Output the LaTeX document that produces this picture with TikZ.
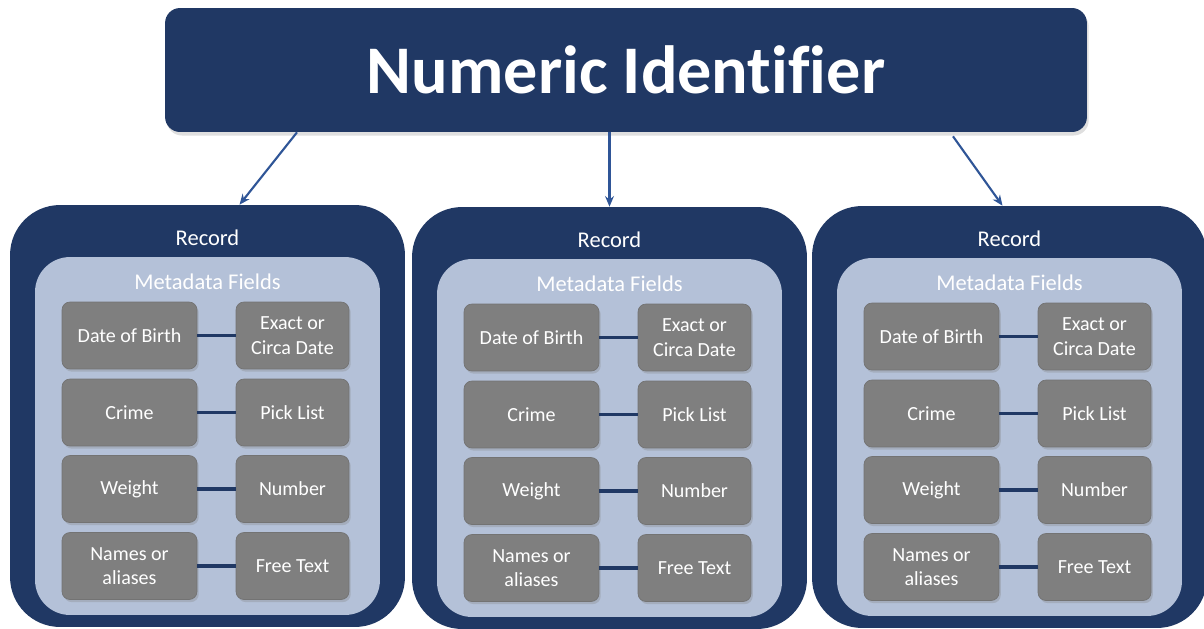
\documentclass[tikz,border=0pt]{standalone}
\usepackage{fontspec}
\setmainfont{Carlito}[Ligatures=CommonOff]
\usetikzlibrary{arrows.meta,calc,shadows}

\definecolor{navy}{RGB}{32,56,100}
\definecolor{paleblue}{RGB}{180,193,216}
\definecolor{fieldgray}{RGB}{127,127,127}
\definecolor{arrowblue}{RGB}{47,85,151}

\tikzset{
  titlebox/.style={fill=navy, rounded corners=0.3cm, minimum width=18.44cm,
    minimum height=2.48cm, text=white, font=\fontsize{38.8}{40}\selectfont\bfseries,
    drop shadow={opacity=0.25, shadow xshift=1pt, shadow yshift=-2pt}},
  recbox/.style={fill=navy, rounded corners=1cm, minimum width=7.9cm, minimum height=8.44cm},
  metabox/.style={fill=paleblue, rounded corners=0.7cm, minimum width=6.9cm, minimum height=7.16cm},
  headtext/.style={text=white, font=\fontsize{12.8}{15}\selectfont},
  field/.style={fill=fieldgray, draw=black!55, rounded corners=0.16cm, minimum height=1.34cm,
    text=white, align=center, font=\fontsize{11.4}{14}\selectfont,
    drop shadow={opacity=0.3, shadow xshift=1pt, shadow yshift=-1.5pt}},
  namefield/.style={field, minimum width=2.7cm},
  typefield/.style={field, minimum width=2.26cm},
  link/.style={navy, line width=1.8pt},
  pointer/.style={arrowblue, line width=1.2pt, -{Stealth[length=6pt,width=5pt]}}
}

\begin{document}
\begin{tikzpicture}[x=0.02cm,y=-0.02cm]
\useasboundingbox[fill=white] (0,0) rectangle (1204,629);

\node[titlebox] (title) at (626,70) {Numeric Identifier};

% one record panel per offset
\foreach \i/\dx/\dy in {1/0/0, 2/402/2, 3/802/1}{
  \node[recbox] (rec\i) at (207.5+\dx,416+\dy) {};
  \node[headtext] (rectext\i) at ($(rec\i.north)+(0,33)$) {Record};
  \node[metabox] (meta\i) at (207.5+\dx,436+\dy) {};
  \node[headtext] (metatext\i) at ($(meta\i.north)+(0,25)$) {Metadata Fields};

  \node[namefield] (dob\i) at (129.5+\dx,335.5+\dy) {Date of Birth};
  \node[typefield] (exact\i) at (292.5+\dx,335.5+\dy) {Exact or\\Circa Date};
  \node[namefield] (crime\i) at (129.5+\dx,412.5+\dy) {Crime};
  \node[typefield] (pick\i) at (292.5+\dx,412.5+\dy) {Pick List};
  \node[namefield] (weight\i) at (129.5+\dx,489+\dy) {Weight};
  \node[typefield] (number\i) at (292.5+\dx,489+\dy) {Number};
  \node[namefield] (names\i) at (129.5+\dx,566+\dy) {Names or\\aliases};
  \node[typefield] (free\i) at (292.5+\dx,566+\dy) {Free Text};

  \draw[link] (dob\i) -- (exact\i);
  \draw[link] (crime\i) -- (pick\i);
  \draw[link] (weight\i) -- (number\i);
  \draw[link] (names\i) -- (free\i);
}

\draw[pointer] ($(title.south)+(-329,0)$) -- ($(rec1.north)+(32,0)$);
\draw[pointer] (rec2.north |- title.south) -- (rec2.north);
\draw[pointer] ($(title.south)+(327,4)$) -- ($(rec3.north)+(-7,0)$);
\end{tikzpicture}
\end{document}
